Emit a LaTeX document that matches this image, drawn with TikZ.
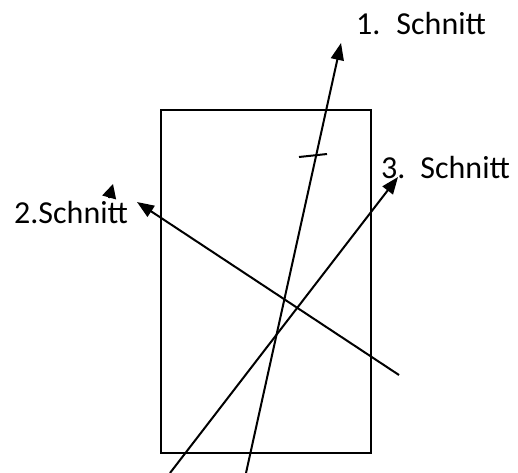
\documentclass[tikz,border=0pt]{standalone}
\usepackage{fontspec}
\setmainfont{Carlito}
\usetikzlibrary{arrows.meta}
\begin{document}
\begin{tikzpicture}[x=1pt,y=-1pt,
  line/.style={line width=2pt},
  arr/.style={line, -{Triangle[length=17pt,width=13pt]}},
  lbl/.style={inner sep=0pt, anchor=base west, font=\fontsize{32}{38}\selectfont}]
\useasboundingbox (0,0) rectangle (518,472);
\node[draw, line width=2pt, minimum width=210pt, minimum height=343pt, inner sep=0pt, anchor=north west] (box) at (160,109) {};
% endpoints
\coordinate (a1) at (246,473);
\coordinate (b1) at (341,43);
\coordinate (a2) at (399,375);
\coordinate (b2) at (137,202);
\coordinate (a3) at (170,473);
\coordinate (b3) at (398,177);
\coordinate (t1) at (299,157);
\coordinate (t2) at (327,154);
\coordinate (f1) at (109,198);
\coordinate (f2) at (113,184);
\draw[arr] (a1) -- (b1);
\draw[arr] (a2) -- (b2);
\draw[arr] (a3) -- (b3);
\draw[line] (t1) -- (t2);
\draw[line, -{Triangle[length=14pt,width=14pt]}] (f1) -- (f2);
\node[lbl] (l1) at (356,34) {1.\hspace{16pt}Schnitt};
\node[lbl] (l2) at (14,223) {2.Schnitt};
\node[lbl] (l3) at (381,178) {3.\hspace{15pt}Schnitt};
\end{tikzpicture}
\end{document}
